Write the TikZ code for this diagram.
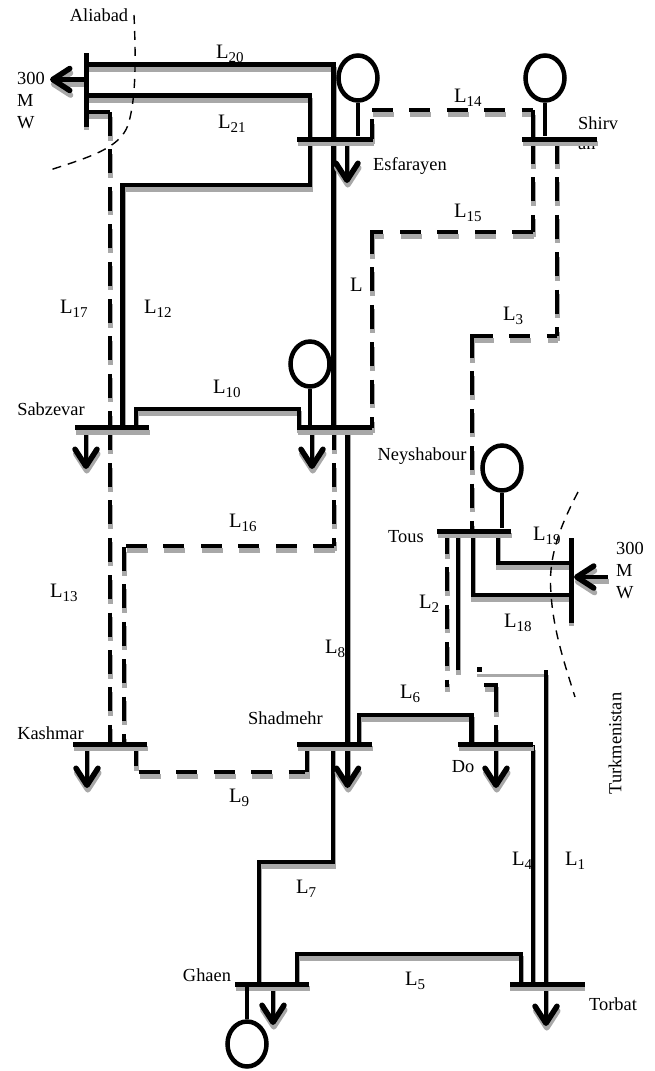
\documentclass[tikz,border=0pt]{standalone}
\usepackage{fontspec}
\setmainfont{Liberation Serif}
\usepackage{xcolor}
\usetikzlibrary{arrows.meta,shapes.geometric}
\definecolor{shadow}{HTML}{A8A8A8}
\newcommand{\lname}[1]{L\raisebox{-4pt}{\fontsize{15}{15}\selectfont #1}}

\tikzset{
  wire/.style={line width=4.8pt,preaction={draw=shadow,line width=5pt,transform canvas={xshift=0.8pt,yshift=-4.6pt}}},
  dashv/.style={line width=4.8pt,dash pattern=on 24pt off 13.4pt,preaction={draw=shadow,line width=5pt,dash pattern=on 24pt off 13.4pt,transform canvas={xshift=0.8pt,yshift=-4.6pt}}},
  dashh/.style={line width=4.8pt,dash pattern=on 21pt off 16.4pt,preaction={draw=shadow,line width=5pt,dash pattern=on 21pt off 16.4pt,transform canvas={xshift=0.8pt,yshift=-4.6pt}}},
  loadarrow/.style={wire,-{Straight Barb[length=17pt,width=22pt,line width=5.5pt,round]}},
  busbar/.style={rectangle,fill=black,inner sep=0pt,minimum height=5pt,preaction={fill=shadow,transform canvas={xshift=0.8pt,yshift=-4.6pt}}},
  vbar/.style={rectangle,fill=black,inner sep=0pt,minimum width=5pt,preaction={fill=shadow,transform canvas={yshift=-3pt}}},
  genset/.style={ellipse,draw,line width=4.5pt,inner sep=0pt,minimum width=39pt,minimum height=45pt},
  stem/.style={line width=4.5pt},
  border/.style={line width=1.4pt,dash pattern=on 9pt off 7pt},
  place/.style={font=\fontsize{18.4}{22}\selectfont,inner sep=0pt},
  linelabel/.style={font=\fontsize{20.5}{24}\selectfont,inner sep=0pt,anchor=base west}
}

\begin{document}
\begin{tikzpicture}[x=1pt,y=-1pt]
  \useasboundingbox (0,0) rectangle (654,1071);

  % labels
  \node[place] (aliabadname) at (99,15) {Aliabad};
  \node[place,align=left,anchor=west] (p300a) at (17,100.5) {300\\M\\W};
  \node[place] (esfname) at (410,166) {Esfarayen};
  \node[place,anchor=west] (shirvname) at (578,123) {Shirv};
  \node[place,anchor=west] (anname) at (578,145) {an};
  \node[place] (sabname) at (51,409) {Sabzevar};
  \node[place] (neyname) at (422,456) {Neyshabour};
  \node[place] (tousname) at (406,537) {Tous};
  \node[place,align=left,anchor=west] (p300b) at (616,571) {300\\M\\W};
  \node[place] (shaname) at (285.5,718) {Shadmehr};
  \node[place] (kasname) at (50.5,733) {Kashmar};
  \node[place] (doname) at (463,767) {Do};
  \node[place,rotate=90] (turname) at (615,743.5) {Turkmenistan};
  \node[place] (ghaname) at (207,975) {Ghaen};
  \node[place] (torname) at (613,1004) {Torbat};
  \node[linelabel] (l20) at (216,58) {\lname{20}};
  \node[linelabel] (l21) at (218,128) {\lname{21}};
  \node[linelabel] (l14) at (454,102) {\lname{14}};
  \node[linelabel] (l15) at (454,217) {\lname{15}};
  \node[linelabel] (l17) at (60,313) {\lname{17}};
  \node[linelabel] (l12) at (144,313) {\lname{12}};
  \node[linelabel] (l11) at (350,291) {L};
  \node[linelabel] (l3) at (503,320) {\lname{3}};
  \node[linelabel] (l10) at (213,393) {\lname{10}};
  \node[linelabel] (l19) at (533,540) {\lname{19}};
  \node[linelabel] (l16) at (229,527) {\lname{16}};
  \node[linelabel] (l2) at (419,608) {\lname{2}};
  \node[linelabel] (l18) at (504,627) {\lname{18}};
  \node[linelabel] (l13) at (50,597) {\lname{13}};
  \node[linelabel] (l8) at (325,653) {\lname{8}};
  \node[linelabel] (l6) at (400,698) {\lname{6}};
  \node[linelabel] (l9) at (229,802) {\lname{9}};
  \node[linelabel] (l4) at (512,865) {\lname{4}};
  \node[linelabel] (l1) at (565,865) {\lname{1}};
  \node[linelabel] (l7) at (296,893) {\lname{7}};
  \node[linelabel] (l5) at (405,985) {\lname{5}};

  % end points of the lines
  \foreach \name/\x/\y in {a20/86/64.5,b20/333.5/428,a21/86/95.5,b21/310/185,c21/122.7/428,
    a17/86/112,b17/110/112,c17/110/428,a13/110/425.6,b13/110/745,
    a14/372/139,b14/372/119,c14/372/110,d14/533/110,e14/533/137,
    a15/533/140,b15/533/232,c15/533/232,d15/372/232,e15/372/230,f15/372/428,
    a3/557/140,b3/557/336,c3/472/336,d3/557/336,e3/472/334,f3/472/530,
    a10/136/428,b10/299/409,a16/334/425.6,b16/334/546,c16/334/546,d16/124/546,e16/124/547,f16/124/745,
    a8/347.5/428,b8/347.5/745,a9/136/745,b9/136/766,c9/139/772,d9/310/772,e9/307/772,f9/307/745,
    a6/359/745,b6/471.5/715,a7/333/745,b7/259/862,c7/259/985,
    a5/297/985,b5/521/954,a4/533/745,b4/533/985,a1/546/985,b1/546/670,c1/477/675,
    a2/447/530,b2/447/687,a22/458/531,b22/458/670,a18/473/531,b18/571/595,a19/498/531,b19/571/563,
    a23/484/685,b23/496/712,
    esfload/347/140,esftip/347/183,sabload/86/428,sabtip/86/469,midload/312/428,midtip/312/469,
    kasload/87/745,kastip/87/788,shaload/347.5/745,shatip/347.5/788,doload/496/725,dotip/496/788,
    ghaload/273/985,ghatip/273/1025,torload/546/985,tortip/546/1026,
    aliload/86/79.5,alitip/50/79.5,turload/608/577,turtip/574/577}
    {\coordinate (\name) at (\x,\y);}

  % lines
  \draw[wire] (a20) -| (b20);
  \draw[wire] (a21) -| (b21) -| (c21);
  \draw[wire] (a17) -- (b17);
  \draw[dashv] (b17) -- (c17);
  \draw[dashv] (a13) -- (b13);
  \draw[wire] (a14) -- (b14);
  \draw[dashh] (c14) -- (d14);
  \draw[wire] (d14) -- (e14);
  \draw[dashv] (a15) -- (b15);
  \draw[dashh] (c15) -- (d15);
  \draw[dashv] (e15) -- (f15);
  \draw[dashv] (a3) -- (b3);
  \draw[dashh] (c3) -- (d3);
  \draw[dashv] (e3) -- (f3);
  \draw[wire] (a10) |- (b10) -- (b10 |- a10);
  \draw[dashv] (a16) -- (b16);
  \draw[dashh] (c16) -- (d16);
  \draw[dashv] (e16) -- (f16);
  \draw[wire] (a8) -- (b8);
  \draw[wire] (a9) -- (b9);
  \draw[dashh] (c9) -- (d9);
  \draw[wire] (e9) -- (f9);
  \draw[wire] (a6) |- (b6) -- (b6 |- a6);
  \draw[wire] (a7) |- (b7) -- (c7);
  \draw[wire] (a5) |- (b5) -- (b5 |- a5);
  \draw[wire] (a4) -- (b4);
  \draw[draw=shadow,line width=3pt] (c1) -- (b1 |- c1);
  \draw[wire] (a1) -- (b1);
  \fill (477,667) rectangle (482,672);
  \draw[dashv] (a2) -- (b2);
  \draw[wire] (a22) -- (b22);
  \draw[wire] (a18) |- (b18);
  \draw[wire] (a19) |- (b19);
  \draw[wire] (a23) -| (b23);

  % loads
  \foreach \from/\to in {esfload/esftip,sabload/sabtip,midload/midtip,kasload/kastip,shaload/shatip,
    doload/dotip,ghaload/ghatip,torload/tortip,aliload/alitip,turload/turtip}
    {\draw[loadarrow] (\from) -- (\to);}

  % buses
  \node[busbar,minimum width=76pt] (esfarayen) at (335,139) {};
  \node[busbar,minimum width=75pt] (shirvan) at (559.5,139) {};
  \node[busbar,minimum width=74pt] (sabzevar) at (112,427.5) {};
  \node[busbar,minimum width=75pt] (midbus) at (334.5,427.5) {};
  \node[busbar,minimum width=74pt] (tous) at (474,531) {};
  \node[busbar,minimum width=74pt] (kashmar) at (110,744) {};
  \node[busbar,minimum width=75pt] (shadmehr) at (334.5,744) {};
  \node[busbar,minimum width=75pt] (dobus) at (495.5,744) {};
  \node[busbar,minimum width=74pt] (ghaen) at (272,984) {};
  \node[busbar,minimum width=75pt] (torbat) at (547,984) {};
  \node[vbar,minimum height=74pt] (aliabad) at (86,90) {};
  \node[vbar,minimum height=85pt] (turkmen) at (571,580.5) {};

  % generators
  \node[genset] (g1) at (358,78) {};
  \node[genset] (g2) at (545,78) {};
  \node[genset] (g3) at (310,364) {};
  \node[genset] (g4) at (502,468) {};
  \node[genset] (g5) at (247,1044) {};
  \draw[stem] (g1.south) -- (g1.south |- esfarayen.north);
  \draw[stem] (g2.south) -- (g2.south |- shirvan.north);
  \draw[stem] (g3.south) -- (g3.south |- midbus.north);
  \draw[stem] (g4.south) -- (g4.south |- tous.north);
  \draw[stem] (g5.north) -- (g5.north |- ghaen.south);

  % borders
  \draw[border] (134,15) .. controls (136,60) and (136,100) .. (128,125) .. controls (120,148) and (90,157) .. (50,170);
  \draw[border] (578,492) .. controls (558,530) and (548,560) .. (551,593) .. controls (553,630) and (565,665) .. (575,697);
\end{tikzpicture}
\end{document}
